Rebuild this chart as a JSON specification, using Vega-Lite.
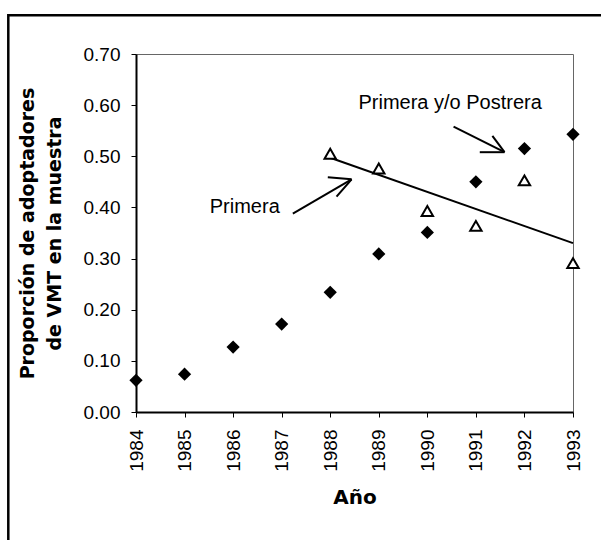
{
  "$schema": "https://vega.github.io/schema/vega-lite/v6.json",
  "width": 437,
  "height": 358,
  "autosize": {"type": "none"},
  "padding": {"left": 136, "top": 54, "right": 28, "bottom": 128},
  "background": "white",
  "datasets": {
    "points": [
      {"year": 1984, "series": "Primera y/o Postrera", "value": 0.062},
      {"year": 1985, "series": "Primera y/o Postrera", "value": 0.074},
      {"year": 1986, "series": "Primera y/o Postrera", "value": 0.127},
      {"year": 1987, "series": "Primera y/o Postrera", "value": 0.172},
      {"year": 1988, "series": "Primera y/o Postrera", "value": 0.234},
      {"year": 1989, "series": "Primera y/o Postrera", "value": 0.309},
      {"year": 1990, "series": "Primera y/o Postrera", "value": 0.351},
      {"year": 1991, "series": "Primera y/o Postrera", "value": 0.450},
      {"year": 1992, "series": "Primera y/o Postrera", "value": 0.515},
      {"year": 1993, "series": "Primera y/o Postrera", "value": 0.543},
      {"year": 1988, "series": "Primera", "value": 0.505},
      {"year": 1989, "series": "Primera", "value": 0.476},
      {"year": 1990, "series": "Primera", "value": 0.393},
      {"year": 1991, "series": "Primera", "value": 0.364},
      {"year": 1992, "series": "Primera", "value": 0.453},
      {"year": 1993, "series": "Primera", "value": 0.291}
    ],
    "labels": [
      {"label": "Primera y/o Postrera", "year": 1990.47, "value": 0.604},
      {"label": "Primera", "year": 1986.24, "value": 0.400}
    ],
    "arrows": [
      {"year": 1987.23, "value": 0.388, "year2": 1988.44, "value2": 0.455},
      {"year": 1987.95, "value": 0.459, "year2": 1988.44, "value2": 0.455},
      {"year": 1988.13, "value": 0.421, "year2": 1988.44, "value2": 0.455},
      {"year": 1990.54, "value": 0.558, "year2": 1991.59, "value2": 0.508},
      {"year": 1991.08, "value": 0.508, "year2": 1991.59, "value2": 0.508},
      {"year": 1991.34, "value": 0.540, "year2": 1991.59, "value2": 0.508}
    ]
  },
  "config": {
    "view": {"stroke": "#666666", "strokeWidth": 1},
    "axis": {
      "domainColor": "black",
      "domainWidth": 2,
      "tickColor": "black",
      "tickWidth": 1,
      "tickSize": 5,
      "grid": false,
      "labelFont": "Liberation Sans",
      "labelFontSize": 19,
      "labelColor": "black",
      "titleFont": "DejaVu Sans",
      "titleFontSize": 19,
      "titleFontWeight": "bold",
      "titleColor": "black"
    }
  },
  "layer": [
    {
      "data": {"values": [{"frame": "border"}]},
      "mark": {"type": "rect", "fill": null, "stroke": "black", "strokeWidth": 2.5, "clip": false},
      "encoding": {
        "x": {"datum": 1981.37, "type": "quantitative"},
        "x2": {"datum": 1994.6},
        "y": {"datum": 0.776, "type": "quantitative"},
        "y2": {"datum": -0.4}
      }
    },
    {
      "data": {"name": "points"},
      "transform": [
        {"filter": "datum.series === 'Primera'"},
        {"regression": "value", "on": "year", "extent": [1988, 1993]}
      ],
      "mark": {"type": "line", "color": "black", "strokeWidth": 2},
      "encoding": {
        "x": {"field": "year", "type": "quantitative"},
        "y": {"field": "value", "type": "quantitative"}
      }
    },
    {
      "data": {"name": "points"},
      "transform": [{"filter": "datum.series === 'Primera y/o Postrera'"}],
      "mark": {"type": "point", "shape": "diamond", "filled": true, "color": "black", "size": 175, "opacity": 1},
      "encoding": {
        "x": {
          "field": "year", "type": "quantitative",
          "scale": {"domain": [1984, 1993], "nice": false, "zero": false},
          "axis": {
            "title": "Año",
            "values": [1984, 1985, 1986, 1987, 1988, 1989, 1990, 1991, 1992, 1993],
            "format": "d",
            "labelAngle": -90,
            "labelAlign": "right",
            "labelBaseline": "middle",
            "labelPadding": 12,
            "titlePadding": 16,
            "titleFontSize": 20
          }
        },
        "y": {
          "field": "value", "type": "quantitative",
          "scale": {"domain": [0, 0.7], "nice": false},
          "axis": {
            "title": ["Proporción de adoptadores", "de VMT en la muestra"],
            "values": [0, 0.1, 0.2, 0.3, 0.4, 0.5, 0.6, 0.7],
            "format": ".2f",
            "labelPadding": 11,
            "titlePadding": 19,
            "titleLineHeight": 27
          }
        }
      }
    },
    {
      "data": {"name": "points"},
      "transform": [{"filter": "datum.series === 'Primera'"}],
      "mark": {"type": "point", "shape": "triangle-up", "filled": false, "fill": "white", "stroke": "black", "strokeWidth": 2, "size": 130, "opacity": 1},
      "encoding": {
        "x": {"field": "year", "type": "quantitative"},
        "y": {"field": "value", "type": "quantitative"}
      }
    },
    {
      "data": {"name": "arrows"},
      "mark": {"type": "rule", "color": "black", "strokeWidth": 2},
      "encoding": {
        "x": {"field": "year", "type": "quantitative"},
        "y": {"field": "value", "type": "quantitative"},
        "x2": {"field": "year2"},
        "y2": {"field": "value2"}
      }
    },
    {
      "data": {"name": "labels"},
      "mark": {"type": "text", "font": "Liberation Sans", "fontSize": 20, "color": "black", "align": "center", "baseline": "middle"},
      "encoding": {
        "x": {"field": "year", "type": "quantitative"},
        "y": {"field": "value", "type": "quantitative"},
        "text": {"field": "label"}
      }
    }
  ]
}
